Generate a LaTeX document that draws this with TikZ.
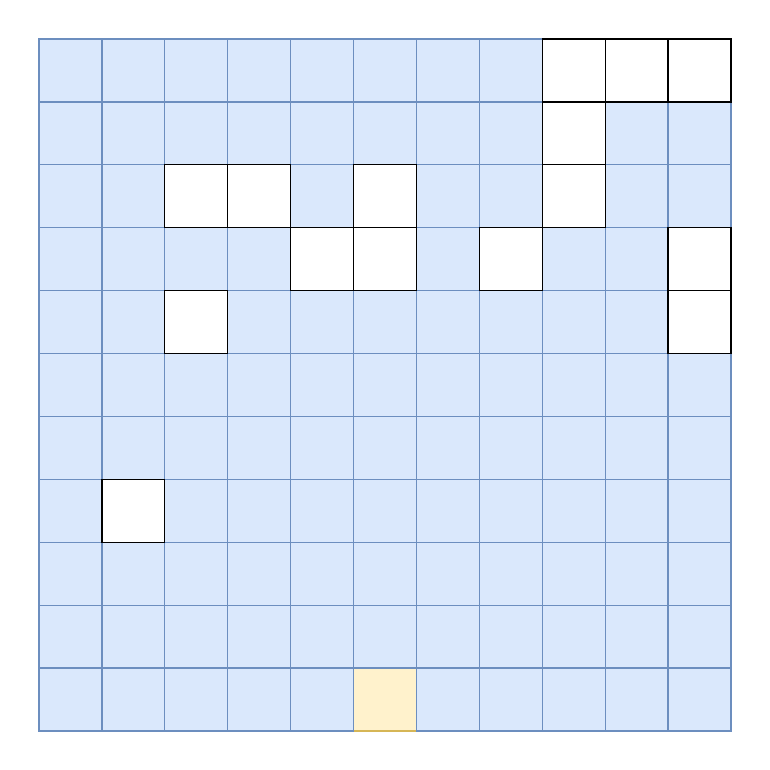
\documentclass[tikz,border=0pt]{standalone}
\usepackage{tikz}
\definecolor{cellfill}{HTML}{DAE8FC}
\definecolor{celldraw}{HTML}{6C8EBF}
\definecolor{startfill}{HTML}{FFF2CC}
\definecolor{startdraw}{HTML}{D6B656}
\begin{document}
\begin{tikzpicture}[line width=0.6pt]
\useasboundingbox (-0.62,-0.62) rectangle (11.62,11.62);
% yellow start cell
\draw[fill=startfill,draw=startdraw] (5,0) rectangle (6,1);
% 11x11 grid of free cells
\foreach \x in {0,...,10} {
    \foreach \y in {0,...,10} {
        \ifnum\x=5 \ifnum\y=0 \else
            \draw[fill=cellfill,draw=celldraw] (\x,\y) rectangle (\x+1,\y+1);
        \fi\else
            \draw[fill=cellfill,draw=celldraw] (\x,\y) rectangle (\x+1,\y+1);
        \fi
    }
}
% blocked cells (column/row from bottom left)
\foreach \x/\y in {8/10,9/10,10/10,8/9,2/8,3/8,5/8,8/8,4/7,5/7,7/7,10/7,2/6,10/6,1/3} {
    \draw[fill=white,draw=black] (\x,\y) rectangle (\x+1,\y+1);
}
\end{tikzpicture}
\end{document}
